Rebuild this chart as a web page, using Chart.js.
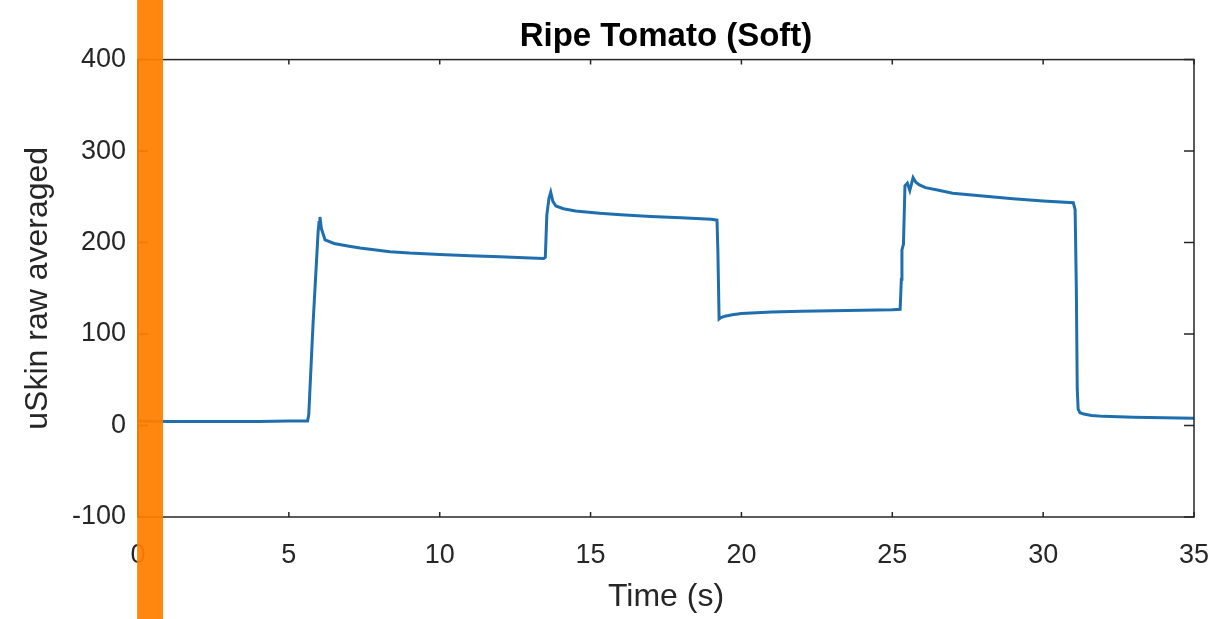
<!DOCTYPE html>
<html><head><meta charset="utf-8">
<script src="https://cdn.jsdelivr.net/npm/chart.js@4.4.0/dist/chart.umd.min.js"></script>
<style>html,body{margin:0;padding:0;background:#fff;overflow:hidden;}</style>
</head><body>
<canvas id="c" width="1217" height="619" style="display:block;width:1217px;height:619px"></canvas>
<script>
// ---- data ----
const timeS = [0, 1, 2, 3, 4, 5, 5.62,
  5.66, 5.8, 5.97, 6.0, 6.03, 6.08, 6.2, 6.5, 7.0, 7.36, 8.35, 9, 10, 11, 12, 13, 13.45,
  13.5, 13.55, 13.62, 13.68, 13.75, 13.85, 14.1, 14.5, 15.3, 16, 17, 18, 19.0, 19.19,
  19.22, 19.26, 19.32, 19.45, 19.7, 20, 21, 22, 23, 24, 25, 25.26,
  25.3, 25.32, 25.37, 25.42, 25.5, 25.58, 25.62, 25.69, 25.78, 25.9, 26.1, 26.5, 27, 28, 29, 30, 31.0,
  31.06, 31.1, 31.13, 31.16, 31.22, 31.35, 31.6, 32, 33, 34, 35];
const uSkin = [5, 4.5, 4.5, 4.5, 4.5, 5, 5,
  12, 110, 212, 222, 228, 215, 203, 199, 196, 194, 190, 188.5, 187, 185.5, 184.5, 183, 182.5,
  184, 230, 248, 255, 245, 240, 237, 234.5, 232, 230.5, 228.5, 227, 225.5, 224.5,
  190, 116.5, 118, 119.5, 121, 122.5, 124, 125, 125.5, 126, 126.5, 127,
  160, 192, 198, 262, 265, 257, 262, 271, 266, 263, 260, 257.5, 254, 251, 248, 245.5, 243.5,
  236, 150, 40, 18, 14, 12.5, 11, 10, 9, 8.5, 8];
const xTicks = [0, 5, 10, 15, 20, 25, 30, 35];
const yTicks = [-100, 0, 100, 200, 300, 400];
const orangeBand = [-0.03, 0.83];

const axisColor = '#262626';
const frame = {
  id: 'frame',
  afterDatasetsDraw(chart) {
    const {ctx, chartArea: a, scales: {x, y}} = chart;
    ctx.save();
    ctx.strokeStyle = axisColor;
    ctx.lineWidth = 1.5;
    ctx.strokeRect(a.left, a.top, a.right - a.left, a.bottom - a.top);
    ctx.beginPath();
    xTicks.forEach(v => {
      const p = x.getPixelForValue(v);
      ctx.moveTo(p, a.bottom); ctx.lineTo(p, a.bottom - 5);
      ctx.moveTo(p, a.top); ctx.lineTo(p, a.top + 5);
    });
    yTicks.forEach(v => {
      const p = y.getPixelForValue(v);
      ctx.moveTo(a.left, p); ctx.lineTo(a.left + 10, p);
      ctx.moveTo(a.right, p); ctx.lineTo(a.right - 10, p);
    });
    ctx.stroke();
    ctx.restore();
  },
  afterDraw(chart) {
    const {ctx, scales: {x}} = chart;
    const l = x.getPixelForValue(orangeBand[0]);
    const r = x.getPixelForValue(orangeBand[1]);
    ctx.save();
    ctx.fillStyle = 'rgba(255,127,0,0.94)';
    ctx.fillRect(l, 0, r - l, chart.height);
    ctx.restore();
  }
};

Chart.defaults.font.family = '"Liberation Sans", Arial, Helvetica, sans-serif';
Chart.defaults.color = axisColor;

new Chart(document.getElementById('c'), {
  type: 'line',
  data: {
    datasets: [{
      data: timeS.map((t, i) => ({x: t, y: uSkin[i]})),
      borderColor: '#1f6fae',
      borderWidth: 3,
      pointRadius: 0,
      tension: 0,
      fill: false
    }]
  },
  options: {
    responsive: false,
    animation: false,
    devicePixelRatio: 1,
    parsing: false,
    layout: {padding: {left: 0, right: 23, top: 0, bottom: 0}},
    plugins: {
      legend: {display: false},
      tooltip: {enabled: false},
      title: {
        display: true,
        text: 'Ripe Tomato (Soft)',
        color: '#000',
        fullSize: false,
        font: {size: 33, weight: 'bold', lineHeight: 1.2},
        padding: {top: 17, bottom: 3}
      }
    },
    scales: {
      x: {
        type: 'linear', min: 0, max: 35,
        grid: {display: false, drawTicks: false},
        border: {display: false},
        afterBuildTicks: s => { s.ticks = xTicks.map(v => ({value: v})); },
        afterFit: s => { s.height = 102; s.paddingLeft = 0; s.paddingRight = 0; },
        ticks: {autoSkip: false, maxRotation: 0, padding: 22, font: {size: 27}, color: axisColor},
        title: {display: true, text: 'Time (s)', font: {size: 32, lineHeight: 1.2}, color: axisColor, padding: {top: 0, bottom: 3}}
      },
      y: {
        type: 'linear', min: -100, max: 400,
        grid: {display: false, drawTicks: false},
        border: {display: false},
        afterBuildTicks: s => { s.ticks = yTicks.map(v => ({value: v})); },
        afterFit: s => { s.width = 138; s.paddingTop = 0; s.paddingBottom = 0; },
        ticks: {autoSkip: false, padding: 12, font: {size: 27}, color: axisColor},
        title: {display: true, text: 'uSkin raw averaged', font: {size: 32, lineHeight: 1.2}, color: axisColor, padding: {top: 19, bottom: 0}}
      }
    }
  },
  plugins: [frame]
});
</script>
</body></html>
